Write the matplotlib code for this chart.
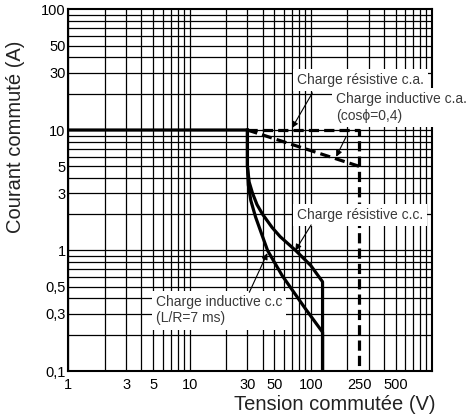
import matplotlib
matplotlib.use('Agg')
import matplotlib.pyplot as plt

plt.rcParams['font.family'] = ['Liberation Sans', 'DejaVu Sans']

# courbes c.c. (tension V, courant A)
res_dc_v = [1, 30, 30, 31, 33, 36, 40, 48, 56, 75, 100, 125, 125]
res_dc_i = [10, 10, 5, 3.7, 3.0, 2.4, 2.0, 1.55, 1.3, 1.0, 0.75, 0.55, 0.1]
ind_dc_v = [30, 30, 30.5, 32, 35, 39, 44, 58, 90, 125, 125]
ind_dc_i = [10, 5, 3.5, 2.6, 1.9, 1.4, 1.0, 0.62, 0.33, 0.21, 0.1]

# courbes c.a.
res_ac_v = [30, 250, 250]
res_ac_i = [10, 10, 0.1]
ind_ac_v = [30, 250]
ind_ac_i = [10, 5]

xticks = [1, 3, 5, 10, 30, 50, 100, 250, 500]
xlabels = ['1', '3', '5', '10', '30', '50', '100', '250', '500']
yticks = [0.1, 0.3, 0.5, 1, 3, 5, 10, 30, 50, 100]
ylabels = ['0,1', '0,3', '0,5', '1', '3', '5', '10', '30', '50', '100']

fig = plt.figure(figsize=(4.69, 4.15), dpi=100)
ax = fig.add_axes([68.4 / 469, 44 / 415, 363.6 / 469, 361.5 / 415])
ax.set_xscale('log')
ax.set_yscale('log')
ax.set_xlim(1, 1000)
ax.set_ylim(0.1, 100)

# grille
for dec in [1, 10, 100]:
    for k in range(1, 10):
        ax.axvline(dec * k, color='black', lw=0.9, zorder=1)
for dec in [0.1, 1, 10]:
    for k in range(1, 10):
        ax.axhline(dec * k, color='black', lw=0.9, zorder=1)

lw = 2.3
ax.plot(res_dc_v, res_dc_i, color='black', lw=lw, zorder=4,
        solid_joinstyle='round')
ax.plot(ind_dc_v, ind_dc_i, color='black', lw=lw, zorder=4,
        solid_joinstyle='round')
ax.plot(res_ac_v, res_ac_i, color='black', lw=lw, zorder=4,
        linestyle=(0, (3.2, 1.6)))
ax.plot(ind_ac_v, ind_ac_i, color='black', lw=lw, zorder=4,
        linestyle=(0, (3.2, 1.6)))

ax.set_xticks(xticks)
ax.set_xticklabels(xlabels)
ax.set_yticks(yticks)
ax.set_yticklabels(ylabels)
ax.minorticks_off()
ax.tick_params(length=0, labelsize=10.5, colors='black')
ax.tick_params(axis='x', pad=5)
ax.tick_params(axis='y', pad=2)
for s in ax.spines.values():
    s.set_linewidth(1.5)

box = dict(boxstyle='square,pad=0.3', fc='white', ec='none')
tc = '#3a3a3a'
ax.text(77, 26, 'Charge résistive c.a.', fontsize=10, color=tc,
        va='center', ha='left', bbox=box, zorder=5)
ax.text(162, 20.7, 'Charge inductive c.a.\n(cos\u03d5=0,4)', fontsize=10,
        color=tc, va='top', ha='left', bbox=box, zorder=5,
        linespacing=1.25, clip_on=False)
ax.text(77, 1.97, 'Charge résistive c.c.', fontsize=10, color=tc,
        va='center', ha='left', bbox=box, zorder=5)
ax.text(5.25, 0.43, 'Charge inductive c.c\n(L/R=7 ms)', fontsize=10,
        color=tc, va='top', ha='left', bbox=box, zorder=5,
        linespacing=1.25)

arr = dict(arrowstyle='-|>', lw=0.8, color='black', mutation_scale=9,
           shrinkA=0, shrinkB=0)
ax.annotate('', xy=(70, 10.4), xytext=(103, 20.3), arrowprops=arr, zorder=6)
ax.annotate('', xy=(162, 6.0), xytext=(195, 8.75), arrowprops=arr, zorder=6)
ax.annotate('', xy=(74.5, 1.0), xytext=(100.7, 1.63), arrowprops=arr, zorder=6)
ax.annotate('', xy=(43.8, 0.95), xytext=(31.1, 0.45), arrowprops=arr, zorder=6)

fig.text(16 / 469, 1 - 137 / 415, 'Courant commuté (A)', rotation=90,
         fontsize=14.5, ha='center', va='center', color='#222222')
fig.text(435 / 469, 1 - 404 / 415, 'Tension commutée (V)', fontsize=14.5,
         ha='right', va='center', color='#222222')

plt.savefig('out.png', dpi=100)
